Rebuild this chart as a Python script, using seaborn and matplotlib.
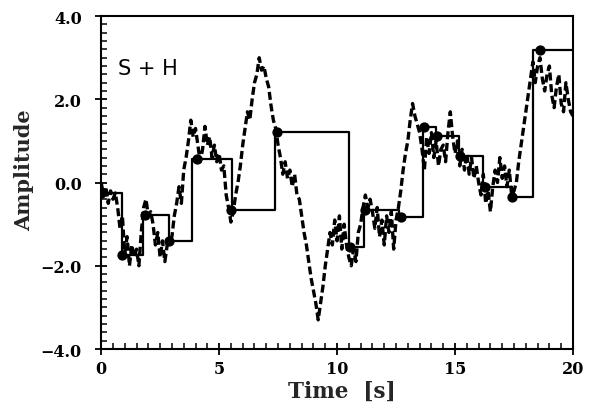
import numpy as np
import pandas as pd
import matplotlib
matplotlib.use("Agg")
import matplotlib.pyplot as plt
from matplotlib.ticker import MultipleLocator, FixedLocator, FixedFormatter
import seaborn as sns

# Continuous signal, one value every 0.1 s from 0 to 20 s
time_s = np.round(np.arange(0.0, 20.05, 0.1), 1)
signal = [
    0.0, -0.3, -0.1, -0.5, -0.2, -0.4, -0.25, -0.6, -1.1, -0.8,
    -1.7, -1.3, -2.0, -1.5, -1.8, -1.6, -2.0, -1.2, -0.6, -0.4,
    -0.8, -0.7, -1.0, -1.5, -1.2, -1.8, -1.4, -1.9, -1.5, -1.35,
    -1.3, -0.8, -0.5, -0.1, -0.5, 0.3, 0.6, 1.0, 1.5, 1.1,
    1.3, 0.9, 0.5, 0.8, 1.35, 0.9, 1.1, 0.6, 0.9, 0.5,
    0.7, 0.3, 0.4, -0.3, -0.6, -0.95, -0.7, -0.3, 0.0, 0.4,
    0.9, 1.3, 1.7, 1.5, 2.0, 2.4, 2.6, 3.0, 2.7, 2.8,
    2.5, 2.3, 1.85, 1.5, 1.3, 0.9, 0.6, 0.2, 0.5, 0.1,
    0.3, -0.1, 0.2, -0.3, -0.4, -0.8, -1.2, -1.5, -1.9, -2.3,
    -2.6, -2.9, -3.3, -2.9, -2.5, -2.0, -1.6, -1.2, -1.5, -0.9,
    -1.4, -0.8, -1.6, -1.0, -1.5, -1.8, -2.0, -1.6, -1.9, -1.2,
    -1.0, -0.6, -0.3, -0.6, -0.4, -0.7, -1.1, -0.6, -1.3, -0.9,
    -1.5, -0.8, -1.2, -0.7, -1.6, -0.9, -0.6, -0.2, 0.3, 0.7,
    1.0, 1.5, 1.9, 1.6, 1.4, 1.2, 0.8, 0.3, 1.1, 0.7,
    1.2, 0.6, 1.0, 0.4, 0.8, 0.9, 0.5, 1.2, 1.7, 1.1,
    0.7, 1.0, 0.4, 0.8, 0.3, 0.7, 0.2, 0.6, 0.1, 0.4,
    0.0, -0.3, 0.2, -0.5, -0.2, -0.7, -0.1, 0.3, 0.0, 0.6,
    0.1, 0.4, -0.1, 0.3, -0.3, -0.2, 0.0, 0.5, 0.9, 1.3,
    1.7, 2.1, 2.5, 2.9, 2.4, 2.8, 3.0, 2.5, 2.2, 2.6,
    2.8, 2.1, 1.8, 2.3, 2.6, 1.9, 1.7, 2.4, 2.0, 1.7,
    1.6,
]

# Sample-and-hold output: switching instants and held levels
hold_times = [0.0, 0.89, 1.78, 2.88, 3.86, 5.55, 7.37, 10.5,
              11.14, 12.63, 13.64, 14.2, 15.17, 16.19, 17.42, 18.31]
hold_levels = [-0.25, -1.74, -0.78, -1.41, 0.56, -0.66, 1.21, -1.55,
               -0.66, -0.83, 1.33, 1.12, 0.64, -0.11, -0.35, 3.18]
end_time = 20.0

# Sample instants (dots) and their held values
sample_times = [0.0, 0.89, 1.86, 2.88, 4.05, 5.5, 7.45, 10.55,
                11.2, 12.7, 13.7, 14.25, 15.2, 16.25, 17.42, 18.6]

x_ticks = [0, 5, 10, 15, 20]
x_tick_labels = ["0", "5", "10", "15", "20"]
y_ticks = [-4.0, -2.0, 0.0, 2.0, 4.0]
y_tick_labels = ["\u22124.0", "\u22122.0", "0.0", "2.0", "4.0"]

sns.set_theme(style="ticks")
plt.rcParams["font.family"] = ["DejaVu Serif"]

fig = plt.figure(figsize=(5.95, 4.10), dpi=100)
ax = fig.add_axes([0.170, 0.1463, 0.793, 0.812])

sig_df = pd.DataFrame({"t": time_s, "a": signal})
sns.lineplot(data=sig_df, x="t", y="a", ax=ax, color="black", lw=2.4,
             linestyle=(0, (2.4, 1.1)), errorbar=None, sort=False)

sh_df = pd.DataFrame({"t": hold_times + [end_time],
                      "a": hold_levels + [hold_levels[-1]]})
sns.lineplot(data=sh_df, x="t", y="a", ax=ax, color="black", lw=1.6,
             drawstyle="steps-post", errorbar=None, sort=False)

pt_df = pd.DataFrame({"t": sample_times, "a": hold_levels})
sns.scatterplot(data=pt_df, x="t", y="a", ax=ax, color="black", s=55,
                edgecolor="black", linewidth=0, zorder=5)

ax.set_xlim(0, 20)
ax.set_ylim(-4, 4)
ax.xaxis.set_major_locator(FixedLocator(x_ticks))
ax.xaxis.set_major_formatter(FixedFormatter(x_tick_labels))
ax.yaxis.set_major_locator(FixedLocator(y_ticks))
ax.yaxis.set_major_formatter(FixedFormatter(y_tick_labels))
ax.xaxis.set_minor_locator(MultipleLocator(0.5))
ax.yaxis.set_minor_locator(MultipleLocator(0.2))

ax.tick_params(which="major", direction="inout", length=8, width=1.3,
               top=False, right=False, labelsize=11.5, colors="black")
ax.tick_params(axis="x", which="major", pad=4)
ax.tick_params(axis="y", which="major", pad=10)
ax.tick_params(which="minor", direction="in", length=4, width=1.1,
               top=False, right=False, colors="black")
for lab in ax.get_xticklabels() + ax.get_yticklabels():
    lab.set_fontweight("bold")

for sp in ax.spines.values():
    sp.set_visible(True)
    sp.set_color("black")
    sp.set_linewidth(1.5)

ax.set_xlabel("Time  [s]", fontsize=15.5, fontweight="bold", labelpad=0)
ax.xaxis.set_label_coords(0.51, -0.092)
ax.set_ylabel("Amplitude", fontsize=15, fontweight="bold")
ax.yaxis.set_label_coords(-0.142, 0.54)

ax.text(0.72, 2.75, "S + H", fontsize=15, family="DejaVu Sans",
        va="center", ha="left", color="black")

fig.savefig("out.png", dpi=100)
